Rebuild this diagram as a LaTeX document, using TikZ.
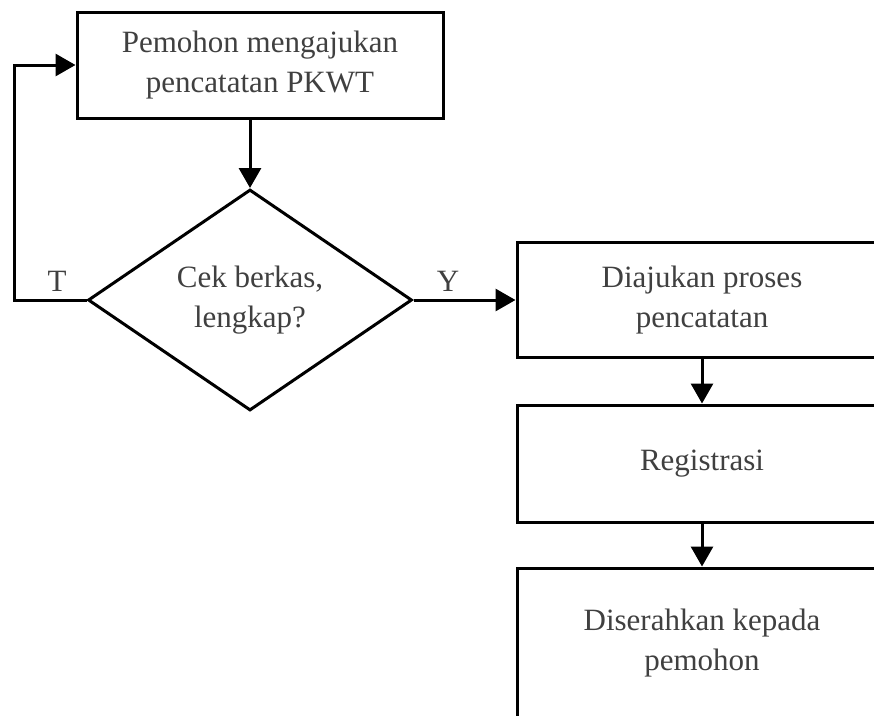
\documentclass[tikz,border=0pt]{standalone}
\usepackage{fontspec}
\setmainfont{Liberation Serif}
\usetikzlibrary{arrows.meta,shapes.geometric}
\definecolor{txt}{HTML}{404040}
\begin{document}
\begin{tikzpicture}[x=1pt,y=-1pt,
  every node/.style={font=\fontsize{31}{40}\selectfont, text=txt},
  box/.style={draw=black, line width=3pt, align=center, inner sep=0pt},
  dec/.style={draw=black, line width=3pt, shape=diamond, align=center, inner sep=0pt,
              minimum width=324pt, minimum height=221pt},
  arr/.style={line width=3pt, -{Triangle[length=20pt,width=22pt]}},
  lbl/.style={inner sep=0pt}]
\useasboundingbox (0,0) rectangle (874,715);
\clip (0,0) rectangle (874,715);
\node[box, minimum width=366pt, minimum height=106pt] (top) at (260,65) {Pemohon mengajukan\\pencatatan PKWT};
\node[dec] (d) at (250,300) {Cek berkas,\\lengkap?};
\node[box, minimum width=370pt, minimum height=115pt] (b1) at (702,300) {Diajukan proses\\pencatatan};
\node[box, minimum width=370pt, minimum height=117pt] (b2) at (702,463.5) {Registrasi};
\node[box, minimum width=370pt, minimum height=150pt] (b3) at (702,643) {Diserahkan kepada\\pemohon};
\coordinate (c1) at (14,300);
\node[lbl] (tl) at (57,281) {T};
\node[lbl] (yl) at (448,281) {Y};
\draw[arr] (top.south -| d.north) -- (d.north);
\draw[arr] (d.east) -- (d.east -| b1.west);
\draw[arr] (b1.south) -- (b2.north);
\draw[arr] (b2.south) -- (b3.north);
\draw[arr] (d.west) -- (c1) |- (top.west);
\end{tikzpicture}
\end{document}
